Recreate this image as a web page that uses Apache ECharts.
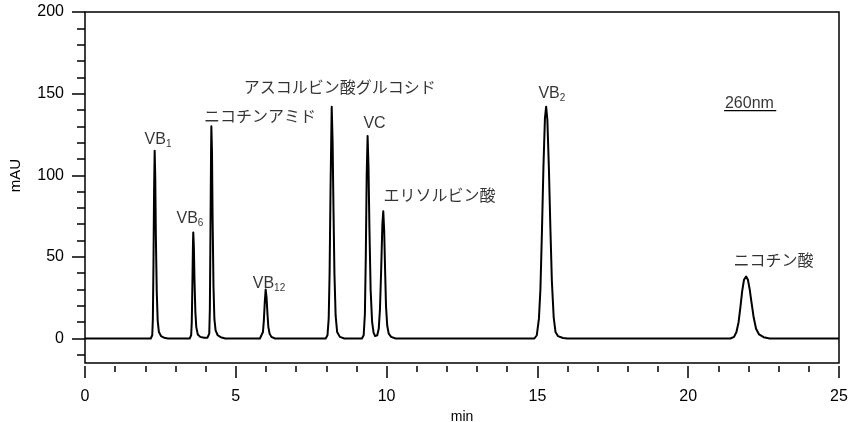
<!DOCTYPE html>
<html>
<head>
<meta charset="utf-8">
<script src="https://cdn.jsdelivr.net/npm/echarts@6/dist/echarts.min.js"></script>
<style>
  html, body { margin: 0; padding: 0; background: #fff; }
  #main { width: 849px; height: 422px; }
</style>
</head>
<body>
<div id="main"></div>
<script>
// クロマトグラム読み取り値 [min, mAU]
var baselineStart = [[0, 0]];
var peakVB1 = [[2.18,0],[2.23,2],[2.25,12],[2.27,45],[2.29,90],[2.31,115],[2.33,98],[2.35,62],[2.38,28],[2.41,11],[2.45,4],[2.52,1.5],[2.62,0.5],[2.75,0]];
var peakVB6 = [[3.47,0],[3.52,2],[3.54,10],[3.56,32],[3.58,58],[3.59,65],[3.61,56],[3.63,36],[3.66,16],[3.69,7],[3.74,2.5],[3.82,1],[3.95,0.5],[4.06,0.5]];
var peakNicotinamide = [[4.10,1],[4.12,3],[4.14,18],[4.16,65],[4.18,115],[4.19,130],[4.21,115],[4.23,75],[4.26,32],[4.29,12],[4.33,5],[4.40,2],[4.50,0.8],[4.65,0]];
var peakVB12 = [[5.80,0],[5.86,1],[5.90,4],[5.93,11],[5.96,22],[5.99,30],[6.02,25],[6.05,15],[6.08,7],[6.12,3],[6.18,1],[6.30,0]];
var peakAscGlu = [[7.98,0],[8.04,2],[8.08,12],[8.11,40],[8.14,90],[8.18,142],[8.21,120],[8.24,78],[8.27,40],[8.31,14],[8.36,4],[8.45,1],[8.60,0]];
var peakVC = [[9.18,0],[9.24,2],[9.28,15],[9.31,50],[9.34,100],[9.37,124],[9.40,105],[9.43,68],[9.47,30],[9.52,10],[9.57,3.5],[9.62,1.5],[9.65,1.3]];
var peakErythorbic = [[9.69,2],[9.74,6],[9.78,18],[9.82,42],[9.86,70],[9.89,78],[9.92,66],[9.95,42],[9.98,20],[10.02,8],[10.07,3],[10.15,1],[10.30,0]];
var peakVB2 = [[14.90,0],[14.98,2],[15.05,12],[15.10,30],[15.15,65],[15.20,105],[15.25,135],[15.29,142],[15.33,134],[15.38,105],[15.43,68],[15.48,35],[15.54,13],[15.60,4],[15.68,1.5],[15.85,0.3],[16.00,0]];
var peakNicotinic = [[21.40,0],[21.52,1],[21.60,4],[21.67,10],[21.73,19],[21.79,29],[21.85,36],[21.92,38],[21.98,36],[22.04,30],[22.10,22],[22.17,13],[22.25,6],[22.35,2.5],[22.50,0.8],[22.70,0]];
var baselineEnd = [[25, 0]];

// ピーク名ラベル（中心位置 [min, mAU]）
var labelBase = ['VB', 'VB', 'ニコチンアミド', 'VB', 'アスコルビン酸グルコシド', 'VC', 'エリソルビン酸', 'VB', '260nm', 'ニコチン酸'];
var labelSub = ['1', '6', '', '12', '', '', '', '2', '', ''];
var labelTime = [2.42, 3.48, 5.80, 6.10, 8.45, 9.60, 11.75, 15.48, 22.03, 22.83];
var labelValue = [122, 73.4, 135.2, 33.6, 153.2, 131.5, 87.2, 149.8, 144.0, 47.1];

// 260nm の下線
var underline260 = [[21.19, 139.6], [22.92, 139.6]];

// 目盛
var yLabelValues = [0, 50, 100, 150, 200];
var yMinorValues = [-10, 0, 10, 20, 30, 40, 50, 60, 70, 80, 90, 100, 110, 120, 130, 140, 150, 160, 170, 180, 190, 200];

var chromatogram = [].concat(baselineStart, peakVB1, peakVB6, peakNicotinamide, peakVB12,
    peakAscGlu, peakVC, peakErythorbic, peakVB2, peakNicotinic, baselineEnd);

var labelData = [];
for (var i = 0; i < labelBase.length; i++) {
    labelData.push([labelTime[i], labelValue[i], labelBase[i], labelSub[i]]);
}

var FONT = '"Liberation Sans", Arial, "Noto Sans CJK JP", sans-serif';

var myChart = echarts.init(document.getElementById('main'));
myChart.setOption({
    animation: false,
    textStyle: { fontFamily: FONT, color: '#000' },
    grid: {
        left: 85, right: 10, top: 12, bottom: 59,
        outerBoundsMode: 'none',
        containLabel: false,
        show: true,
        borderColor: '#000',
        borderWidth: 1.5,
        backgroundColor: 'transparent'
    },
    xAxis: {
        type: 'value',
        min: 0, max: 25, interval: 5,
        position: 'bottom',
        offset: 3,
        name: 'min',
        nameLocation: 'middle',
        nameGap: 34,
        nameTextStyle: { fontSize: 14, color: '#000', fontFamily: FONT },
        axisLine: { show: false, onZero: false },
        axisTick: { show: true, length: 12, lineStyle: { color: '#000', width: 1.5 } },
        minorTick: { show: true, splitNumber: 5, length: 6, lineStyle: { color: '#000', width: 1.5 } },
        axisLabel: { margin: 23, fontSize: 16, color: '#000', fontFamily: FONT },
        splitLine: { show: false },
        minorSplitLine: { show: false }
    },
    yAxis: [{
        type: 'value',
        min: -15, max: 200,
        position: 'left',
        name: 'mAU',
        nameLocation: 'middle',
        nameGap: 62,
        nameTextStyle: { fontSize: 15, color: '#000', fontFamily: FONT, padding: [0, 0, 0, 24] },
        axisLine: { show: false, onZero: false },
        axisTick: { show: true, length: 13, customValues: yLabelValues, lineStyle: { color: '#000', width: 1.5 } },
        axisLabel: { margin: 21, fontSize: 16, color: '#000', fontFamily: FONT, customValues: yLabelValues },
        splitLine: { show: false }
    }, {
        type: 'value',
        min: -15, max: 200,
        position: 'left',
        axisLine: { show: false, onZero: false },
        axisTick: { show: true, length: 8, customValues: yMinorValues, lineStyle: { color: '#000', width: 1.5 } },
        axisLabel: { show: false },
        splitLine: { show: false }
    }],
    series: [{
        name: 'chromatogram',
        type: 'line',
        data: chromatogram,
        showSymbol: false,
        smooth: false,
        lineStyle: { color: '#000', width: 2, join: 'round' },
        silent: true
    }, {
        name: 'underline',
        type: 'line',
        data: underline260,
        showSymbol: false,
        lineStyle: { color: '#000', width: 1.3 },
        silent: true
    }, {
        name: 'labels',
        type: 'scatter',
        data: labelData,
        symbolSize: 1,
        itemStyle: { color: 'rgba(0,0,0,0)' },
        silent: true,
        label: {
            show: true,
            position: 'inside',
            formatter: function (p) {
                var s = '{b|' + p.data[2] + '}';
                if (p.data[3]) s += '{s|' + p.data[3] + '}';
                return s;
            },
            rich: {
                b: { fontSize: 16, color: '#000', fontFamily: FONT, lineHeight: 20 },
                s: { fontSize: 10, color: '#000', fontFamily: FONT, lineHeight: 20, padding: [9, 0, 0, 0] }
            }
        }
    }]
});
</script>
</body>
</html>
